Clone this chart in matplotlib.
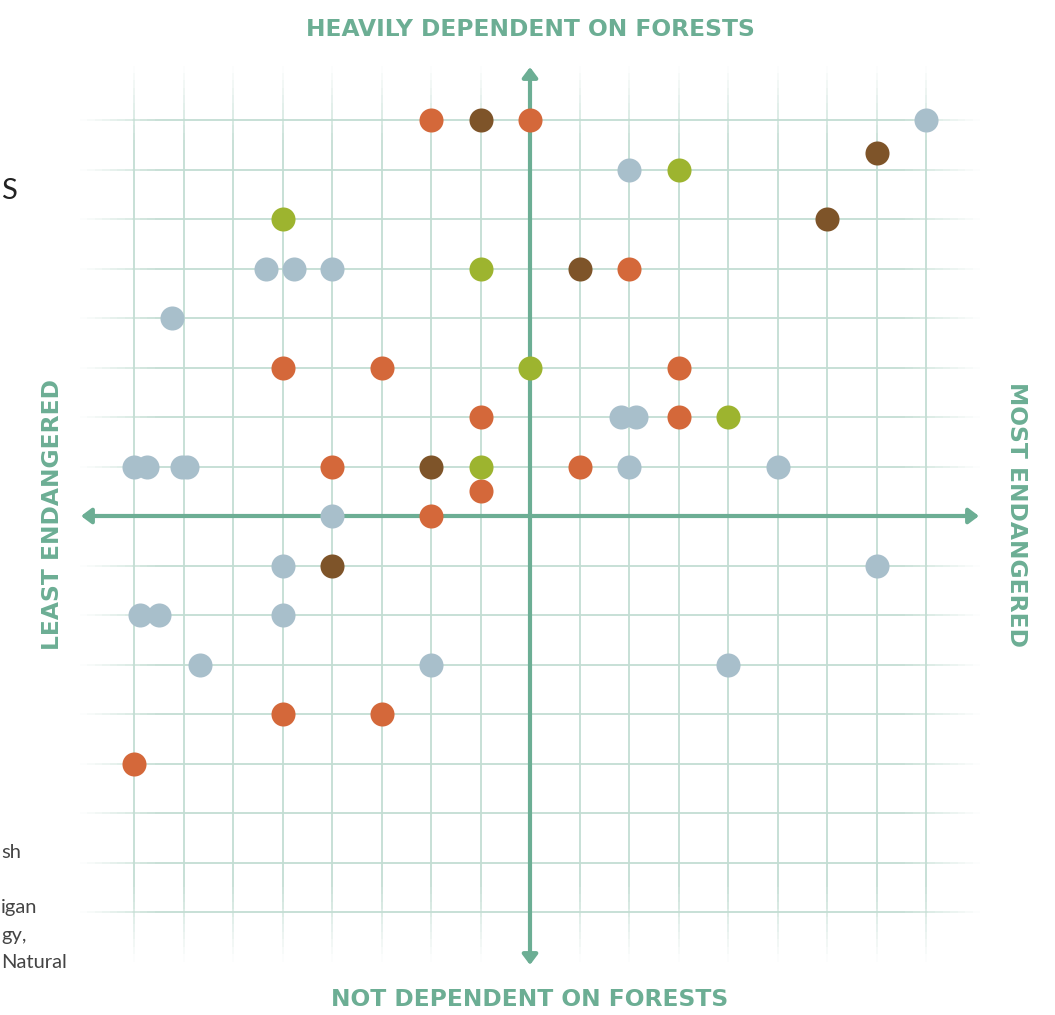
import numpy as np
import matplotlib
matplotlib.use("Agg")
import matplotlib.pyplot as plt
from matplotlib.collections import LineCollection
from matplotlib.patches import FancyArrowPatch
from matplotlib.colors import to_rgb

# ---- data (grid units: x = endangerment, y = forest dependence) ----
orange_x = [-2, 0, 2, -5, -3, 3, -1, 3, -4, 1, -1, -2, -5, -3, -8]
orange_y = [8, 8, 5, 3, 3, 3, 2, 2, 1, 1, 0.5, 0, -4, -4, -5]
brown_x = [-1, 7, 6, 1, -2, -4]
brown_y = [8, 7.33, 6, 5, 1, -1]
green_x = [3, -5, -1, 0, 4, -1]
green_y = [7, 6, 5, 3, 2, 1]
blue_x = [8, 2, -5.33, -4.77, -4, -7.23, 1.84, 2.14, -8, -7.73, -7.03, -6.93,
          2, 5, -4, -5, 7, -7.87, -7.5, -5, -6.67, -2, 4]
blue_y = [8, 7, 5, 5, 5, 4, 2, 2, 1, 1, 1, 1,
          1, 1, 0, -1, -1, -2, -2, -2, -3, -3, -3]

top_label = "HEAVILY DEPENDENT ON FORESTS"
bottom_label = "NOT DEPENDENT ON FORESTS"
left_label = "LEAST ENDANGERED"
right_label = "MOST ENDANGERED"

ORANGE = "#D4683A"
BROWN = "#7E5429"
GREEN = "#9DB42F"
BLUE = "#A8BFCB"
TEAL = "#6CAE94"
GRID = "#C3DDD3"

W, H = 1055, 1015
U = 49.5
CX, CY = 530, 516

fig = plt.figure(figsize=(W / 100, H / 100), dpi=100)
ax = fig.add_axes([0, 0, 1, 1])
ax.set_xlim(-CX / U, (W - CX) / U)
ax.set_ylim((CY - H) / U, CY / U)
ax.axis("off")

# ---- fading grid lines ----
def fade_lines(coords, horizontal, lo, hi, fade=1.6):
    segs, cols = [], []
    t = np.linspace(lo, hi, 121)
    r, g, b = to_rgb(GRID)
    for c in coords:
        for a0, a1 in zip(t[:-1], t[1:]):
            m = 0.5 * (a0 + a1)
            alpha = np.clip(min(m - lo, hi - m) / fade, 0, 1)
            if horizontal:
                segs.append([(a0, c), (a1, c)])
            else:
                segs.append([(c, a0), (c, a1)])
            cols.append((r, g, b, alpha))
    ax.add_collection(LineCollection(segs, colors=cols, linewidths=1.3, zorder=1,
                                     capstyle="butt"))

ticks = np.arange(-8, 9)
fade_lines(ticks, True, -9.1, 9.1)
fade_lines(ticks, False, -9.0, 9.1)

# ---- main axes with arrows ----
for p0, p1 in [((-9.07, 0), (9.07, 0)), ((0, -9.07), (0, 9.07))]:
    ax.add_patch(FancyArrowPatch(p0, p1, arrowstyle="<|-|>,head_length=0.6,head_width=0.45",
                                 color=TEAL, lw=3.0, mutation_scale=10, zorder=2,
                                 shrinkA=0, shrinkB=0))

# ---- points ----
S = 300
ax.scatter(blue_x, blue_y, s=S, color=BLUE, lw=0, zorder=3)
ax.scatter(orange_x, orange_y, s=S, color=ORANGE, lw=0, zorder=3)
ax.scatter(brown_x, brown_y, s=S, color=BROWN, lw=0, zorder=3)
ax.scatter(green_x, green_y, s=S, color=GREEN, lw=0, zorder=3)

# ---- labels ----
hfam = ["DejaVu Sans"]
HS = 16.8
fig.text(530 / W, 1 - 30 / H, top_label, ha="center", va="center", color=TEAL,
         fontsize=HS, fontweight="bold", family=hfam)
fig.text(530 / W, 1 - 1000 / H, bottom_label, ha="center", va="center", color=TEAL,
         fontsize=HS, fontweight="bold", family=hfam)
fig.text(53 / W, 1 - 515 / H, left_label, ha="center", va="center", color=TEAL,
         fontsize=HS, fontweight="bold", family=hfam, rotation=90)
fig.text(1016 / W, 1 - 515 / H, right_label, ha="center", va="center", color=TEAL,
         fontsize=HS, fontweight="bold", family=hfam, rotation=-90)

# ---- side text fragments ----
fam = ["Lato", "DejaVu Sans"]
fig.text(1 / W, 1 - 191 / H, "S", ha="left", va="center", color="#222222",
         fontsize=21, family=fam)
for txt, yc in [("sh", 853), ("igan", 908), ("gy,", 935), ("Natural", 962)]:
    fig.text(1 / W, 1 - yc / H, txt, ha="left", va="center", color="#444444",
             fontsize=14.5, family=fam)

fig.savefig("out.png", dpi=100, facecolor="white")
